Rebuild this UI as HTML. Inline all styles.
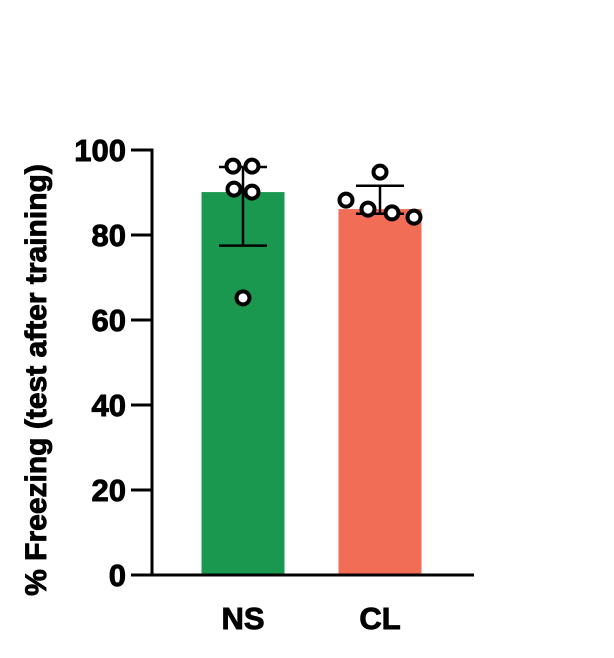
<!DOCTYPE html>
<html><head><meta charset="utf-8"><style>
body{margin:0;background:#fff;}
svg text{font-family:"Liberation Sans",Arial,sans-serif;font-weight:bold;stroke:#000;stroke-width:0.9;}
</style></head><body>
<svg width="614" height="653" id="chart"></svg>
<script>
const categories=["NS","CL"];
const barValues=[90.1,86.1];
const errLow=[77.5,85.0];
const errHigh=[96.0,91.6];
const points=[[96.2,96.2,90.8,90.1,65.2],[88.2,94.8,86.1,85.2,84.2]];
const pointOffsets=[[-10,9,-9,9,0],[-34,0,-12,12,34]];
const yTicks=[0,20,40,60,80,100];
const colors=["#1a9850","#f26d55"];
const NS="http://www.w3.org/2000/svg";
const svg=document.getElementById('chart');
const y0=575,yTop=150;
const y=v=>y0-(v/100)*(y0-yTop);
const centers=[243,380];
const bw=83;
function el(t,a,p){const e=document.createElementNS(NS,t);for(const k in a)e.setAttribute(k,a[k]);(p||svg).appendChild(e);return e;}
categories.forEach((c,i)=>{
  const b=el('rect',{x:centers[i]-bw/2,y:y(barValues[i]),width:bw,height:y0-y(barValues[i]),fill:colors[i]});
  
  
  const g=el('g',{stroke:'#000','stroke-width':2.5});
  
  
  el('line',{x1:centers[i],x2:centers[i],y1:y(errHigh[i]),y2:y(errLow[i])},g);
  el('line',{x1:centers[i]-24,x2:centers[i]+24,y1:y(errHigh[i]),y2:y(errHigh[i])},g);
  el('line',{x1:centers[i]-24,x2:centers[i]+24,y1:y(errLow[i]),y2:y(errLow[i])},g);
  points[i].forEach((v,j)=>{
    const p=el('circle',{cx:centers[i]+pointOffsets[i][j],cy:y(v),r:6.5,fill:'#fff',stroke:'#000','stroke-width':4});
    
    
  });
  const t=el('text',{x:centers[i],y:629,'text-anchor':'middle','font-size':31});
  t.textContent=c;
  
  
});
const ax=el('g',{stroke:'#000','stroke-width':3});


el('line',{x1:152,x2:152,y1:yTop-1.5,y2:y0+1.5},ax);
const xa=el('line',{x1:131,x2:474,y1:y0,y2:y0,stroke:'#000','stroke-width':3});


yTicks.forEach(v=>{
  el('line',{x1:131,x2:152,y1:y(v),y2:y(v)},ax);
  const t=el('text',{x:126,y:y(v)+11,'text-anchor':'end','font-size':31});
  t.textContent=v;
  
  
});
const yt=el('text',{x:0,y:0,'text-anchor':'middle','font-size':30,transform:'translate(46,380) rotate(-90)'});
yt.textContent='% Freezing (test after training)';


</script>
</body></html>
